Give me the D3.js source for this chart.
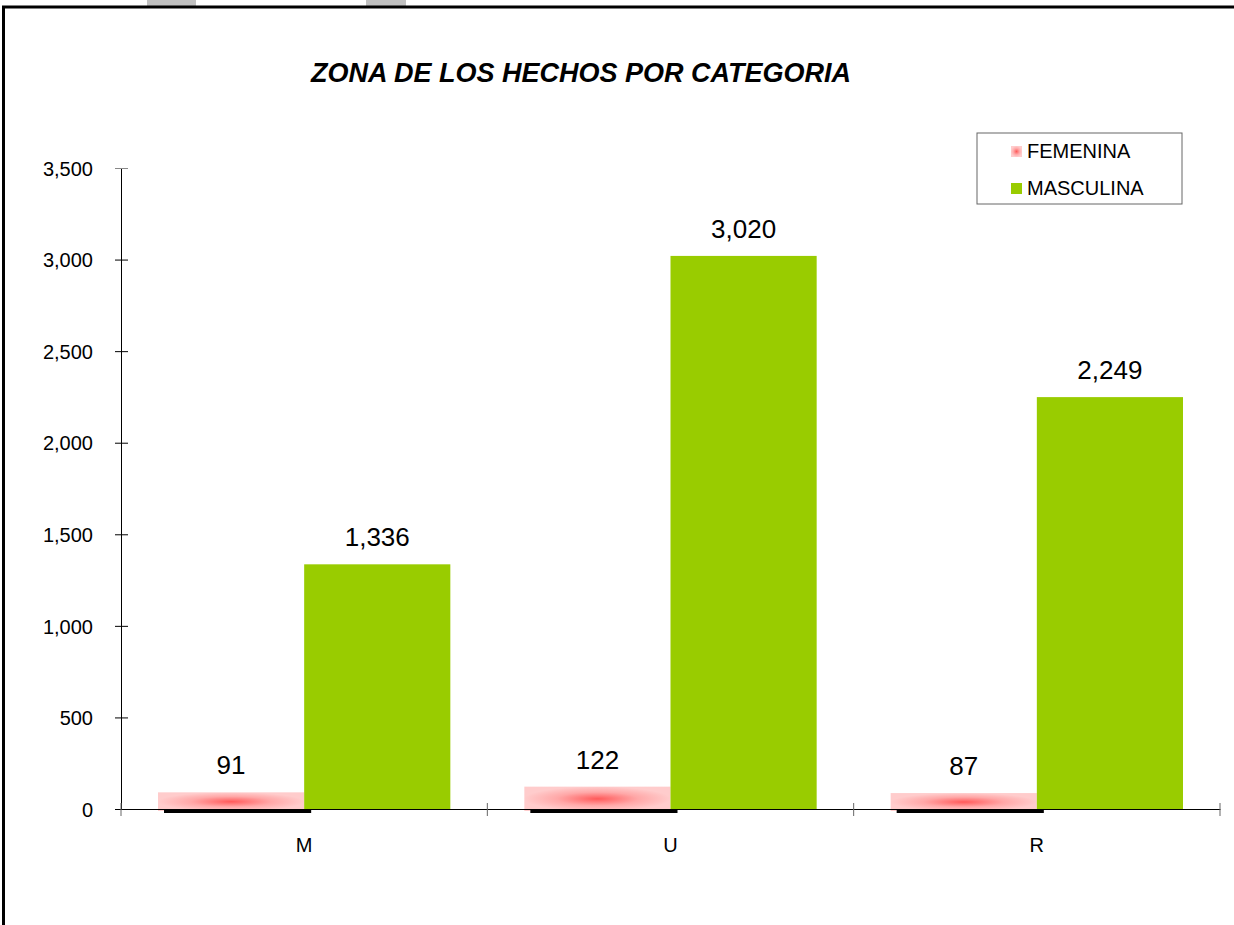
<!DOCTYPE html>
<html>
<head>
<meta charset="utf-8">
<script src="https://cdn.jsdelivr.net/npm/d3@7"></script>
<style>
  body { margin: 0; background: #fff; }
  text { font-family: "Liberation Sans", Arial, sans-serif; }
</style>
</head>
<body>
<div id="main"></div>
<script>
var categories = ["M", "U", "R"];
var seriesNames = ["FEMENINA", "MASCULINA"];
var femenina = [91, 122, 87];
var masculina = [1336, 3020, 2249];
var yTicks = [0, 500, 1000, 1500, 2000, 2500, 3000, 3500];

var W = 1234, H = 925;
var margin = {top: 168, right: 14, bottom: 116, left: 121},
    width = W - margin.left - margin.right,
    height = H - margin.top - margin.bottom;

var svg = d3.select("#main")
  .append("svg")
    .attr("width", W)
    .attr("height", H);

var defs = svg.append("defs");
var grad = defs.append("radialGradient")
    .attr("id", "pinkGrad")
    .attr("cx", "50%").attr("cy", "50%").attr("r", "50%");
grad.append("stop").attr("offset", "0%").attr("stop-color", "#ff5a5a");
grad.append("stop").attr("offset", "55%").attr("stop-color", "#ffa8a8");
grad.append("stop").attr("offset", "100%").attr("stop-color", "#ffcccc");

// outer frame & top tabs
svg.append("rect").attr("x", 147).attr("y", 0).attr("width", 49).attr("height", 6).attr("fill", "#c0c0c0");
svg.append("rect").attr("x", 366).attr("y", 0).attr("width", 40).attr("height", 6).attr("fill", "#c0c0c0");
svg.append("path")
  .attr("d", "M3.5," + H + " V7 H" + W)
  .attr("fill", "none")
  .attr("stroke", "#000")
  .attr("stroke-width", 3);

// title
svg.append("text")
  .attr("x", 581)
  .attr("y", 82)
  .attr("text-anchor", "middle")
  .style("font-size", "27px")
  .style("font-weight", "bold")
  .style("font-style", "italic")
  .text("ZONA DE LOS HECHOS POR CATEGORIA");

var g = svg.append("g")
  .attr("transform", "translate(" + margin.left + "," + margin.top + ")");

var x0 = d3.scaleBand().domain(categories).range([0, width]).paddingInner(0).paddingOuter(0);
var x1 = d3.scaleBand().domain(seriesNames).range([37, x0.bandwidth() - 37]).padding(0);
var y = d3.scaleLinear().domain([0, 3500]).range([height, 0]);

var data = categories.map(function(c, i) {
  return {cat: c, values: [{s: "FEMENINA", v: femenina[i]}, {s: "MASCULINA", v: masculina[i]}]};
});

// y axis
var yAxis = g.append("g")
  .call(d3.axisLeft(y).tickValues(yTicks).tickFormat(d3.format(",")).tickSize(0).tickPadding(28));
yAxis.select(".domain").attr("stroke", "#000");
yAxis.selectAll(".tick text").style("font-size", "20px").attr("fill", "#000").attr("dy", "0.36em");
yAxis.selectAll(".tick").append("line")
  .attr("x1", -6).attr("x2", 7).attr("stroke", function(d) { return d === 3500 ? "#888" : "#000"; });

// bars
var cat = g.selectAll(".cat").data(data).enter().append("g")
  .attr("transform", function(d) { return "translate(" + x0(d.cat) + ",0)"; });

cat.selectAll(".bar").data(function(d) { return d.values; }).enter().append("rect")
  .attr("x", function(d) { return x1(d.s); })
  .attr("y", function(d) { return y(d.v); })
  .attr("width", x1.bandwidth())
  .attr("height", function(d) { return height - y(d.v) + (d.s === "FEMENINA" ? 2 : 0); })
  .attr("fill", function(d) { return d.s === "FEMENINA" ? "url(#pinkGrad)" : "#99cc00"; });

cat.selectAll(".lbl").data(function(d) { return d.values; }).enter().append("text")
  .attr("x", function(d) { return x1(d.s) + x1.bandwidth() / 2; })
  .attr("y", function(d) { return y(d.v) - 18; })
  .attr("text-anchor", "middle")
  .style("font-size", "26px")
  .text(function(d) { return d3.format(",")(d.v); });

// x axis
var xAxis = g.append("g")
  .attr("transform", "translate(0," + height + ")")
  .call(d3.axisBottom(x0).tickSize(0).tickPadding(29));
xAxis.select(".domain").attr("stroke", "#000");
xAxis.selectAll(".tick text").style("font-size", "20px").attr("fill", "#000");
xAxis.selectAll(".sep").data([0, 1, 2, 3]).enter().append("line")
  .attr("x1", function(d) { return d * x0.step(); })
  .attr("x2", function(d) { return d * x0.step(); })
  .attr("y1", -6).attr("y2", 7)
  .attr("stroke", "#666");

// shadow under femenina (drawn over the axis line)
cat.append("rect")
  .attr("x", x1("FEMENINA") + 6)
  .attr("y", height)
  .attr("width", x1.bandwidth() + 1)
  .attr("height", 4)
  .attr("fill", "#000");

// legend
var lg = svg.append("g").attr("transform", "translate(977,133)");
lg.append("rect").attr("width", 205).attr("height", 71).attr("fill", "#fff").attr("stroke", "#666").attr("stroke-width", 1);
var li = lg.selectAll(".li").data(seriesNames).enter().append("g")
  .attr("transform", function(d, i) { return "translate(34," + (13 + i * 37) + ")"; });
li.append("rect").attr("width", 11).attr("height", 11)
  .attr("fill", function(d) { return d === "FEMENINA" ? "url(#pinkGrad)" : "#99cc00"; });
li.append("text").attr("x", 16).attr("y", 12).style("font-size", "20px").text(function(d) { return d; });
</script>
</body>
</html>
